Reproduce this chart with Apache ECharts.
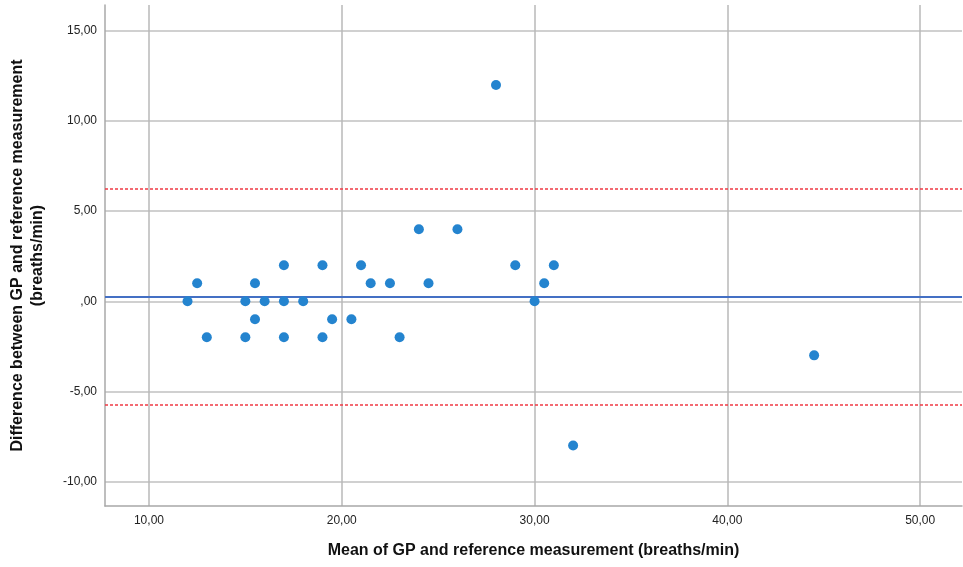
<!DOCTYPE html>
<html>
<head>
<meta charset="utf-8">
<script src="https://cdn.jsdelivr.net/npm/echarts@6/dist/echarts.min.js"></script>
<style>html,body{margin:0;padding:0;background:#fff}#c{width:963px;height:567px}</style>
</head>
<body>
<div id="c"></div>
<script>
// Data (Bland-Altman plot)
var meanValues = [12, 12.5, 13, 15, 15, 15.5, 15.5, 16, 17, 17, 17, 18, 19, 19, 19.5, 20.5, 21, 21.5, 22.5, 23, 24, 24.5, 26, 28, 29, 30, 30.5, 31, 32, 44.5];
var diffValues = [0, 1, -2, 0, -2, 1, -1, 0, 2, 0, -2, 0, 2, -2, -1, -1, 2, 1, 1, -2, 4, 1, 4, 12, 2, 0, 1, 2, -8, -3];
var meanDiff = 0.27;
var upperLoA = 6.26;
var lowerLoA = -5.72;
var xRange = [7.72, 52.17];
var yRange = [-11.36, 16.44];
var xTicks = [10, 20, 30, 40, 50];
var yTicks = [-10, -5, 0, 5, 10, 15];

function fmt(v) {
  if (Math.abs(v) < 1e-9) return ',00';
  return v.toFixed(2).replace('.', ',');
}

var points = meanValues.map(function (m, i) { return [m, diffValues[i]]; });

var chart = echarts.init(document.getElementById('c'), null, {renderer: 'canvas'});
chart.setOption({
  animation: false,
  backgroundColor: '#ffffff',
  grid: {left: 103, right: 1, top: 5, bottom: 61, containLabel: false},
  xAxis: {
    type: 'value',
    min: xRange[0], max: xRange[1],
    name: 'Mean of GP and reference measurement (breaths/min)',
    nameLocation: 'middle', nameGap: 37,
    nameTextStyle: {fontFamily: 'Liberation Sans', fontWeight: 'bold', fontSize: 16, color: '#111'},
    axisLine: {show: true, onZero: false, lineStyle: {color: '#a8a8a8', width: 1.5}},
    axisTick: {show: false, customValues: xTicks},
    axisLabel: {
      fontFamily: 'Liberation Sans', fontSize: 12, color: '#222', margin: 9,
      customValues: xTicks,
      formatter: function (v) { return fmt(v); }
    },
    splitLine: {show: true, lineStyle: {color: '#b8b8b8', width: 1.5}}
  },
  yAxis: {
    type: 'value',
    min: yRange[0], max: yRange[1],
    name: 'Difference between GP and reference measurement\n(breaths/min)',
    nameLocation: 'middle', nameGap: 57,
    nameTextStyle: {fontFamily: 'Liberation Sans', fontWeight: 'bold', fontSize: 16, color: '#111', lineHeight: 20, align: 'center'},
    axisLine: {show: true, onZero: false, lineStyle: {color: '#a8a8a8', width: 1.5}},
    axisTick: {show: false, customValues: yTicks},
    axisLabel: {
      fontFamily: 'Liberation Sans', fontSize: 12, color: '#222', margin: 8,
      customValues: yTicks,
      formatter: function (v) { return fmt(v); }
    },
    splitLine: {show: true, lineStyle: {color: '#d0d0d0', width: 2}}
  },
  series: [{
    type: 'scatter',
    data: points,
    symbol: 'circle',
    symbolSize: 10,
    itemStyle: {color: '#2484cf', opacity: 1},
    z: 5,
    markLine: {
      silent: true,
      symbol: 'none',
      label: {show: false},
      animation: false,
      data: [
        {yAxis: meanDiff, lineStyle: {color: '#4470c4', width: 2, type: 'solid'}},
        {yAxis: upperLoA, lineStyle: {color: '#f03a44', width: 1.5, type: [3, 2]}},
        {yAxis: lowerLoA, lineStyle: {color: '#f03a44', width: 1.5, type: [3, 2]}}
      ]
    }
  }]
});
</script>
</body>
</html>
